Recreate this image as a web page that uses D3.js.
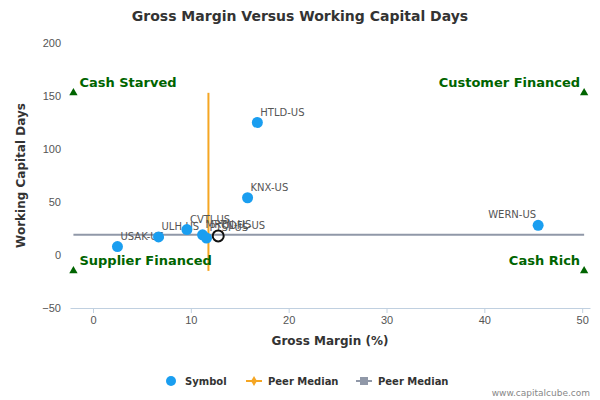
<!DOCTYPE html>
<html><head><meta charset="utf-8">
<script src="https://cdn.jsdelivr.net/npm/d3@7"></script>
<style>body{margin:0;font-family:"DejaVu Sans",sans-serif;}</style>
</head><body><div id="chart"></div>
<script>
// datos
const symbols = ["USAK-US", "ULH-US", "CVTI-US", "MRTN-US", "PTSI-US", "KNX-US", "HTLD-US", "WERN-US"];
const grossMargin = [2.5, 6.7, 9.6, 11.2, 11.6, 15.8, 16.8, 45.5];
const wcDays = [8, 17, 24, 19, 16, 54, 125, 28];
const target = { name: "ODFL-US", x: 12.8, y: 18 };
const medianX = 11.8, medianY = 19;
const xTicks = [0, 10, 20, 30, 40, 50];
const yTicks = [-50, 0, 50, 100, 150, 200];
const quadrants = [
  { label: "Cash Starved", x: -2, y: 153, anchor: "start" },
  { label: "Customer Financed", x: 50.2, y: 153, anchor: "end" },
  { label: "Supplier Financed", x: -2, y: -15, anchor: "start" },
  { label: "Cash Rich", x: 50.2, y: -15, anchor: "end" }
];

const W = 600, H = 400;
const m = { left: 70, right: 10, top: 43, bottom: 92 };
const svg = d3.select("#chart").append("svg").attr("width", W).attr("height", H);

const x = d3.scaleLinear().domain([-2.35, 50.8]).range([m.left, W - m.right]);
const y = d3.scaleLinear().domain([-50, 200]).range([H - m.bottom, m.top]);

svg.append("text").attr("x", W / 2).attr("y", 21).attr("text-anchor", "middle")
  .attr("font-size", 14).attr("font-weight", "bold").attr("fill", "#333")
  .text("Gross Margin Versus Working Capital Days");

// ejes
const xAxis = svg.append("g").attr("transform", `translate(0,${H - m.bottom})`)
  .call(d3.axisBottom(x).tickValues(xTicks).tickSize(5).tickSizeOuter(0));
xAxis.select(".domain").attr("stroke", "#c0d0e0");
xAxis.selectAll(".tick line").attr("stroke", "#c0d0e0");
xAxis.selectAll("text").attr("fill", "#555").attr("font-size", 11);

const yAxis = svg.append("g").attr("transform", `translate(${m.left},0)`)
  .call(d3.axisLeft(y).tickValues(yTicks).tickSize(0));
yAxis.select(".domain").remove();
yAxis.selectAll("text").attr("fill", "#555").attr("font-size", 11).attr("dx", -6);

svg.append("text").attr("x", (m.left + W - m.right) / 2).attr("y", 345).attr("text-anchor", "middle")
  .attr("font-size", 12).attr("font-weight", "bold").attr("fill", "#333").text("Gross Margin (%)");
svg.append("text").attr("transform", `translate(25,${(m.top + H - m.bottom) / 2}) rotate(-90)`)
  .attr("text-anchor", "middle").attr("font-size", 12).attr("font-weight", "bold").attr("fill", "#333")
  .text("Working Capital Days");

// medianas
svg.append("line").attr("x1", x(-2)).attr("x2", x(50.2)).attr("y1", y(medianY)).attr("y2", y(medianY))
  .attr("stroke", "#9098a8").attr("stroke-width", 2);
svg.append("line").attr("x1", x(medianX)).attr("x2", x(medianX)).attr("y1", y(153)).attr("y2", y(-15))
  .attr("stroke", "#f5a623").attr("stroke-width", 2);

// cuadrantes
quadrants.forEach(q => {
  svg.append("path").attr("d", d3.symbol(d3.symbolTriangle, 30)())
    .attr("transform", `translate(${x(q.x)},${y(q.y)})`).attr("fill", "#006400");
  svg.append("text").attr("x", x(q.x) + (q.anchor === "start" ? 6 : -4)).attr("y", y(q.y) - 6)
    .attr("text-anchor", q.anchor).attr("font-size", 13).attr("font-weight", "bold")
    .attr("fill", "#006400").text(q.label);
});

// puntos
symbols.forEach((s, i) => {
  const right = grossMargin[i] > 40;
  svg.append("circle").attr("cx", x(grossMargin[i])).attr("cy", y(wcDays[i])).attr("r", 5.5).attr("fill", "#1a9ef0");
  svg.append("text").attr("x", x(grossMargin[i]) + (right ? -2 : 3)).attr("y", y(wcDays[i]) - 7)
    .attr("text-anchor", right ? "end" : "start")
    .attr("font-size", 10).attr("fill", "#555").text(s);
});
svg.append("circle").attr("cx", x(target.x)).attr("cy", y(target.y)).attr("r", 5.5)
  .attr("fill", "none").attr("stroke", "#111").attr("stroke-width", 2);
svg.append("text").attr("x", x(target.x) + 3).attr("y", y(target.y) - 7)
  .attr("font-size", 10).attr("fill", "#555").text(target.name);

// leyenda
const lg = svg.append("g").attr("font-size", 10).attr("font-weight", "bold").attr("fill", "#333");
lg.append("circle").attr("cx", 171).attr("cy", 381).attr("r", 5).attr("fill", "#1a9ef0");
lg.append("text").attr("x", 185).attr("y", 385).text("Symbol");
lg.append("line").attr("x1", 246).attr("x2", 262).attr("y1", 381).attr("y2", 381).attr("stroke", "#f5a623").attr("stroke-width", 2);
lg.append("path").attr("d", d3.symbol(d3.symbolDiamond, 30)()).attr("transform", "translate(254,381)").attr("fill", "#f5a623");
lg.append("text").attr("x", 268).attr("y", 385).text("Peer Median");
lg.append("line").attr("x1", 356).attr("x2", 372).attr("y1", 381).attr("y2", 381).attr("stroke", "#9098a8").attr("stroke-width", 2);
lg.append("rect").attr("x", 360).attr("y", 377).attr("width", 8).attr("height", 8).attr("fill", "#9098a8");
lg.append("text").attr("x", 378).attr("y", 385).text("Peer Median");
svg.append("text").attr("x", 590).attr("y", 396).attr("text-anchor", "end").attr("font-size", 9)
  .attr("fill", "#888").text("www.capitalcube.com");
</script></body></html>
